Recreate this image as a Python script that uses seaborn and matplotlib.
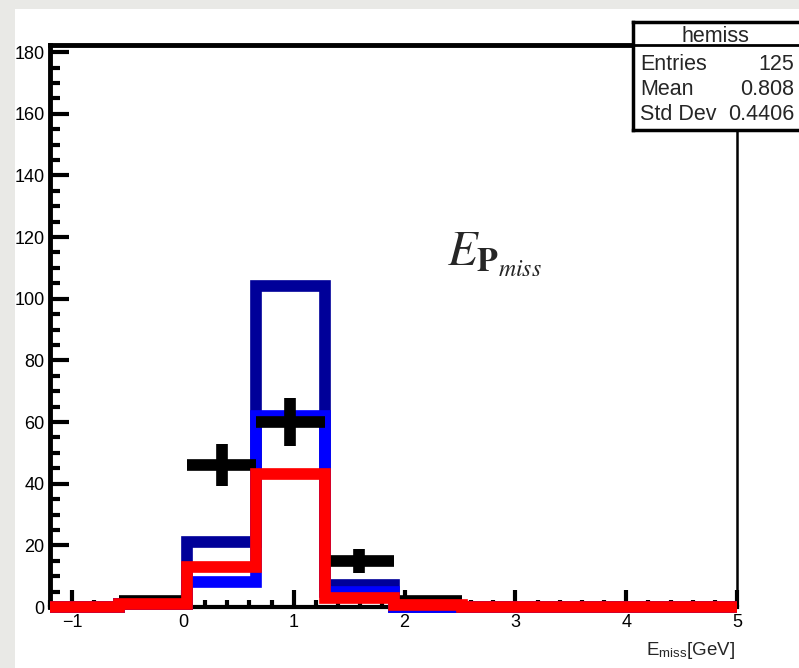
import numpy as np
import matplotlib
matplotlib.use("Agg")
import matplotlib.pyplot as plt
import seaborn as sns
from matplotlib.patches import Rectangle

# bin edges of the hemiss histogram (10 bins from -1.2 to 5)
edges = [-1.2, -0.58, 0.04, 0.66, 1.28, 1.9, 2.52, 3.14, 3.76, 4.38, 5.0]
centers = [(a + b) / 2 for a, b in zip(edges[:-1], edges[1:])]

# MC contributions (bin contents)
navy_counts = [0, 1, 21, 104, 7, 0, 0, 0, 0, 0]
blue_counts = [0, 1, 8, 62, 5, 0, 0, 0, 0, 0]
red_counts = [0, 1, 13, 43, 3, 0.5, 0, 0, 0, 0]

# data points
data_counts = [0, 2, 46, 60, 15, 2, 0, 0, 0, 0]

stats_title = "hemiss"
stats_rows = [("Entries", "125"), ("Mean", "0.808"), ("Std Dev", "0.4406")]

sns.set_style("white")
plt.rcParams["font.family"] = ["Liberation Sans", "DejaVu Sans"]
plt.rcParams["mathtext.fontset"] = "stix"

fig = plt.figure(figsize=(7.99, 6.68), dpi=100, facecolor="#e9e9e6")
# white ROOT canvas
fig.patches.append(Rectangle((15 / 799, 0), 1, 1 - 9 / 668, transform=fig.transFigure,
                             facecolor="white", edgecolor="none", zorder=-10))

ax = fig.add_axes([50 / 799, 1 - 607 / 668, 687 / 799, 562 / 668])
ax.set_facecolor("white")

lw = 8.4
for counts, col, z in [(navy_counts, "#000099", 2), (blue_counts, "#0000ff", 3),
                       (red_counts, "#ff0000", 6)]:
    sns.histplot(x=centers, weights=counts, bins=edges, element="step", fill=False,
                 color=col, linewidth=lw, ax=ax, solid_joinstyle="miter",
                 solid_capstyle="butt", clip_on=False, zorder=z)

# data with errors
dx = [c for c, v in zip(centers, data_counts) if v > 0]
dy = [v for v in data_counts if v > 0]
dw = [(b - a) / 2 for a, b, v in zip(edges[:-1], edges[1:], data_counts) if v > 0]
ax.errorbar(dx, dy, xerr=dw, yerr=np.sqrt(dy), fmt="none", ecolor="black",
            elinewidth=8.4, capsize=0, zorder=5)

ax.set_xlim(-1.2, 5.0)
ax.set_ylim(0, 182.3)
ax.set_ylabel("")
ax.set_xlabel("")

ax.set_xticks([-1, 0, 1, 2, 3, 4, 5])
ax.set_xticks(np.arange(-1.2, 5.01, 0.2), minor=True)
ax.set_yticks(range(0, 181, 20))
ax.set_yticks(range(0, 181, 5), minor=True)
ax.set_xticklabels(["\u22121", "0", "1", "2", "3", "4", "5"])

ax.tick_params(axis="both", which="both", direction="in", width=3, colors="black",
               labelsize=13, bottom=True, left=True, top=False, right=False)
ax.tick_params(axis="y", which="major", length=14, pad=4)
ax.tick_params(axis="y", which="minor", length=7)
ax.tick_params(axis="x", which="major", length=12, pad=5)
ax.tick_params(axis="x", which="minor", length=5)

for side, w in [("left", 3.5), ("top", 3.5), ("bottom", 3), ("right", 1.8)]:
    ax.spines[side].set_visible(True)
    ax.spines[side].set_linewidth(w)
    ax.spines[side].set_color("black")

ax.text(2.38, 111, r"$E_{\mathbf{P}_{miss}}$", fontsize=35, ha="left", va="baseline")

fig.text(735 / 799, 1 - 655 / 668, r"E$_{\mathregular{miss}}$[GeV]", fontsize=13.5,
         ha="right", va="baseline")

# stats box
sb = fig.add_axes([633 / 799, 1 - 130 / 668, 174 / 799, 108 / 668])
sb.set_xticks([])
sb.set_yticks([])
sb.set_facecolor("white")
sb.set_zorder(10)
for side in ["left", "top", "bottom"]:
    sb.spines[side].set_linewidth(2.5)
    sb.spines[side].set_color("black")
sb.spines["right"].set_visible(False)
sb.axhline(0.787, color="black", linewidth=2)
sb.text(0.471, 0.815, stats_title, transform=sb.transAxes, ha="center", va="baseline",
        fontsize=15.5)
for (name, val), yb in zip(stats_rows, [0.556, 0.324, 0.093]):
    sb.text(0.040, yb, name, transform=sb.transAxes, ha="left", va="baseline", fontsize=15.5)
    sb.text(0.925, yb, val, transform=sb.transAxes, ha="right", va="baseline", fontsize=15.5)

fig.savefig("out.png", dpi=100, facecolor=fig.get_facecolor())
